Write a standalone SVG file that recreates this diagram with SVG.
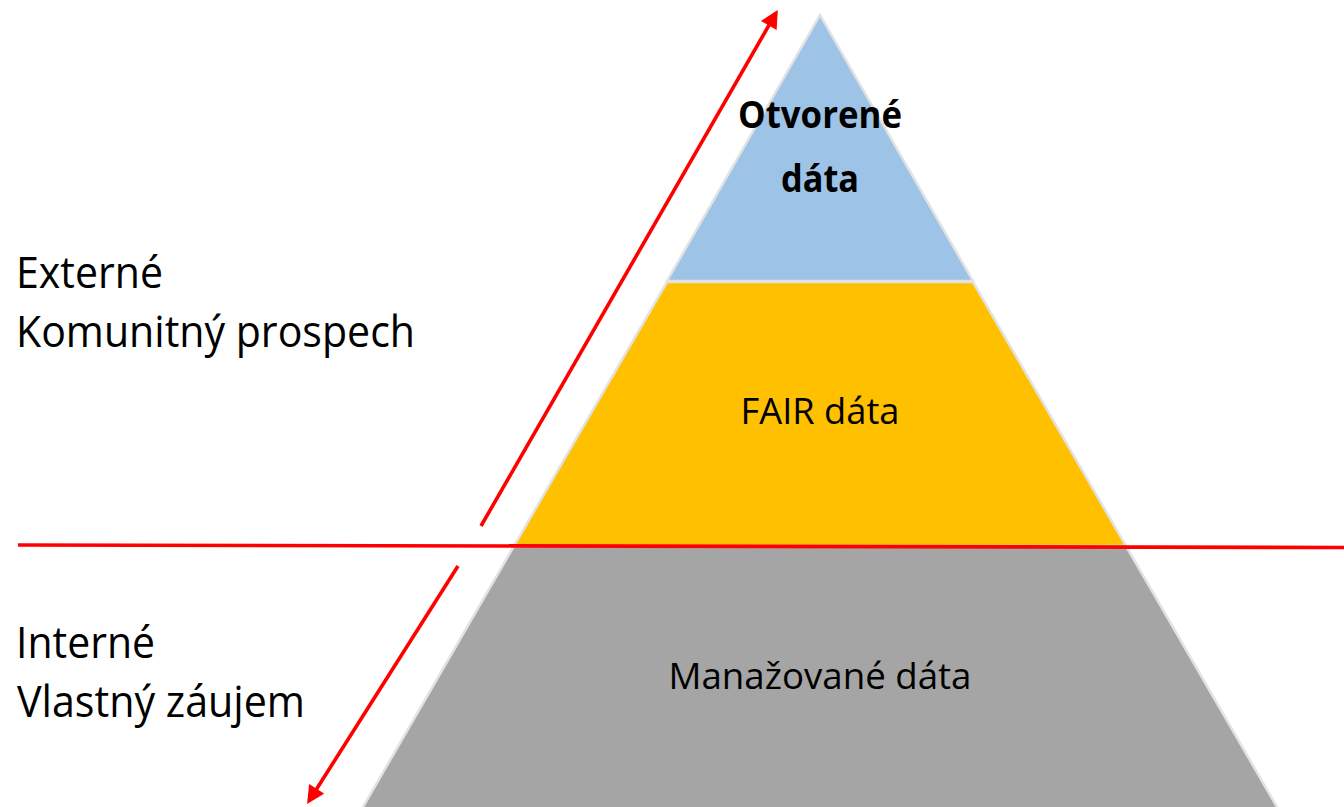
<svg xmlns="http://www.w3.org/2000/svg" width="1344" height="807" viewBox="0 0 1344 807">
  <style>
    .lvl { stroke: #E2E2E2; stroke-width: 2.5; stroke-linejoin: miter; }
    .lbl { font-family: "Open Sans", "Noto Sans", sans-serif; fill: #000000; }
    .side { font-size: 44px; }
    .in { font-size: 37px; text-anchor: middle; }
    .red { stroke: #FF0000; stroke-width: 3.6; fill: none; }
  </style>
  <defs>
    <marker id="head" viewBox="0 0 10 10" refX="8" refY="5" markerWidth="5.5" markerHeight="5" orient="auto" markerUnits="strokeWidth">
      <path d="M0,0 L10,5 L0,10 Z" fill="#FF0000"/>
    </marker>
  </defs>
  <rect width="1344" height="807" fill="#FFFFFF"/>

  <!-- pyramid levels -->
  <g id="level-managed">
    <polygon class="lvl" fill="#A5A5A5" points="514,546 1126,546 1281,814 359,814"/>
    <text class="lbl in" x="820" y="689" textLength="303" lengthAdjust="spacingAndGlyphs">Manažované dáta</text>
  </g>
  <g id="level-fair">
    <polygon class="lvl" fill="#FFC000" points="667,282 973,282 1126,546 514,546"/>
    <text class="lbl in" x="820" y="424" textLength="159" lengthAdjust="spacingAndGlyphs">FAIR dáta</text>
  </g>
  <g id="level-open">
    <polygon class="lvl" fill="#9DC3E6" points="820,15 973,281 667,281"/>
    <text class="lbl in" x="820" y="128" font-weight="bold" textLength="164" lengthAdjust="spacingAndGlyphs">Otvorené</text>
    <text class="lbl in" x="820" y="192" font-weight="bold" textLength="78" lengthAdjust="spacingAndGlyphs">dáta</text>
  </g>

  <!-- side labels -->
  <g id="label-external">
    <text class="lbl side" x="16" y="288" textLength="147" lengthAdjust="spacingAndGlyphs">Externé</text>
    <text class="lbl side" x="16" y="347" textLength="399" lengthAdjust="spacingAndGlyphs">Komunitný prospech</text>
  </g>
  <g id="label-internal">
    <text class="lbl side" x="16" y="658" textLength="139" lengthAdjust="spacingAndGlyphs">Interné</text>
    <text class="lbl side" x="17" y="717" textLength="288" lengthAdjust="spacingAndGlyphs">Vlastný záujem</text>
  </g>

  <!-- connectors -->
  <g id="connectors">
    <line class="red" x1="18" y1="545" x2="1344" y2="547.5"/>
    <line class="red" x1="481" y1="526" x2="776" y2="13" marker-end="url(#head)"/>
    <line class="red" x1="458" y1="566" x2="309" y2="801" marker-end="url(#head)"/>
  </g>
</svg>
